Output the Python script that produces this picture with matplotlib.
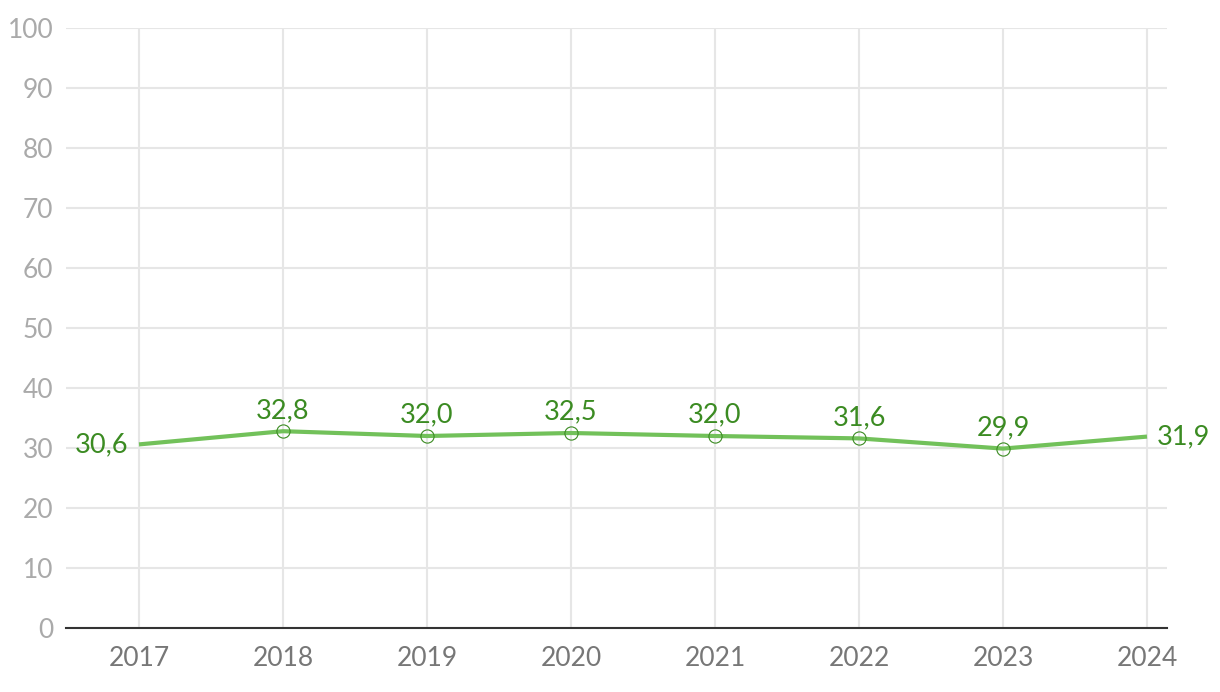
import matplotlib.pyplot as plt

# data
years = ['2017', '2018', '2019', '2020', '2021', '2022', '2023', '2024']
values = [30.6, 32.8, 32.0, 32.5, 32.0, 31.6, 29.9, 31.9]
yticks = [0, 10, 20, 30, 40, 50, 60, 70, 80, 90, 100]

line_color = '#72c15a'
label_color = '#3b8b22'

plt.rcParams['font.family'] = ['Lato', 'DejaVu Sans']

fig = plt.figure(figsize=(12.2, 6.92), dpi=100)
ax = fig.add_axes([66 / 1220, 64 / 692, 1101 / 1220, 600 / 692])

x = list(range(len(years)))
ax.plot(x, values, color=line_color, lw=3, solid_capstyle='butt', zorder=3)
# hollow markers on the inner points only
ax.plot(x[1:-1], values[1:-1], 'o', ms=9.5, mfc='none', mec=label_color,
        mew=0.8, zorder=4)

fmt = lambda v: f'{v:.1f}'.replace('.', ',')
for i, v in enumerate(values):
    if i == 0:
        ax.annotate(fmt(v), (i, v), xytext=(-8, 0), textcoords='offset points',
                    ha='right', va='center', color=label_color, fontsize=19.5)
    elif i == len(values) - 1:
        ax.annotate(fmt(v), (i, v), xytext=(7, 0), textcoords='offset points',
                    ha='left', va='center', color=label_color, fontsize=19.5)
    else:
        ax.annotate(fmt(v), (i, v), xytext=(0, 6), textcoords='offset points',
                    ha='center', va='bottom', color=label_color, fontsize=19.5)

ax.set_xlim(-73 / 144, 7 + 20 / 144)
ax.set_ylim(0, 100)
ax.set_xticks(x)
ax.set_xticklabels(years)
ax.set_yticks(yticks)

ax.grid(True, color='#e6e6e6', lw=1.5)
ax.set_axisbelow(True)
for s in ['top', 'right', 'left']:
    ax.spines[s].set_visible(False)
ax.spines['bottom'].set_color('#333333')
ax.spines['bottom'].set_linewidth(1.5)
ax.spines['bottom'].set_zorder(5)

ax.tick_params(axis='both', length=0)
ax.tick_params(axis='y', labelsize=19, labelcolor='#aaaaaa', pad=9)
ax.tick_params(axis='x', labelsize=19, labelcolor='#777777', pad=13)

fig.savefig('out.png', dpi=100)
